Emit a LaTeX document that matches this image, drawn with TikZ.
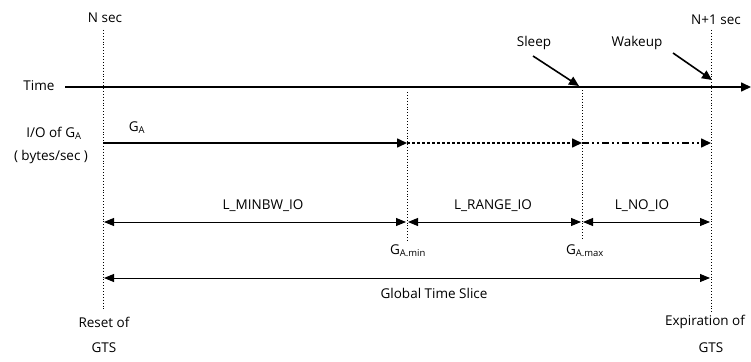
\documentclass[tikz,border=0pt]{standalone}
\usepackage{fontspec}
\setmainfont{Open Sans}
\usetikzlibrary{arrows.meta}
\begin{document}
\begin{tikzpicture}[x=1pt,y=-1pt,
  lbl/.style={inner sep=0pt,font=\fontsize{13.5}{15}\selectfont},
  vdot/.style={line width=0.9pt,dotted},
  tip/.style={-{Triangle[length=10pt,width=9pt]}},
  dtip/.style={{Triangle[length=10pt,width=8pt]}-{Triangle[length=10pt,width=8pt]}},
  thickline/.style={line width=1.6pt},
  thinline/.style={line width=0.9pt}]
\useasboundingbox (0,0) rectangle (751,361);
% coordinates
\coordinate (L0) at (103,30);  \coordinate (L1) at (103,311);
\coordinate (R0) at (711,30);  \coordinate (R1) at (711,312);
\coordinate (M0) at (407,92);  \coordinate (M1) at (407,240);
\coordinate (X0) at (582,90);  \coordinate (X1) at (582,240);
\coordinate (T0) at (65,87);   \coordinate (T1) at (751,87);
\coordinate (IO0) at (103,143); \coordinate (IOa) at (407,143);
\coordinate (IOb) at (582,143); \coordinate (IOc) at (711,143);
\coordinate (SL0) at (533,56); \coordinate (SL1) at (579,86);
\coordinate (WK0) at (673,53); \coordinate (WK1) at (712,80);
\coordinate (A0) at (104,222); \coordinate (A1) at (406,222);
\coordinate (B0) at (408,222); \coordinate (B1) at (581,222);
\coordinate (C0) at (583,222); \coordinate (C1) at (710,222);
\coordinate (G0) at (104,278); \coordinate (G1) at (710,278);
% vertical dotted lines
\draw[vdot] (L0) -- (L1);
\draw[vdot] (R0) -- (R1);
\draw[vdot] (M0) -- (M1);
\draw[vdot] (X0) -- (X1);
% time line
\draw[thickline,tip] (T0) -- (T1);
% I/O line
\draw[thickline,tip] (IO0) -- (IOa);
\draw[thickline,tip,dash pattern=on 3pt off 2pt] (IOa) -- (IOb);
\draw[thickline,tip,dash pattern=on 7pt off 3pt on 2pt off 3pt on 2pt off 3pt] (IOb) -- (IOc);
% sleep / wakeup arrows
\draw[thickline,tip] (SL0) -- (SL1);
\draw[thickline,tip] (WK0) -- (WK1);
% interval arrows
\draw[thinline,dtip] (A0) -- (A1);
\draw[thinline,dtip] (B0) -- (B1);
\draw[thinline,dtip] (C0) -- (C1);
\draw[thinline,dtip] (G0) -- (G1);
% labels
\node[lbl] (nsec) at (105,18) {N sec};
\node[lbl] (n1sec) at (716,20) {N+1 sec};
\node[lbl] (sleep) at (534,43) {Sleep};
\node[lbl] (wake) at (637,43) {Wakeup};
\node[lbl] (time) at (39,86) {Time};
\node[lbl] (io) at (54,133) {I/O of G\textsubscript{A}};
\node[lbl] (bps) at (51,157) {( bytes/sec )};
\node[lbl] (ga) at (137,128) {G\textsubscript{A}};
\node[lbl] (lmin) at (263,206) {L\_MINBW\_IO};
\node[lbl] (lrange) at (493,206) {L\_RANGE\_IO};
\node[lbl] (lno) at (642,206) {L\_NO\_IO};
\node[lbl] (gmin) at (408,251) {G\textsubscript{A.min}};
\node[lbl] (gmax) at (585,251) {G\textsubscript{A.max}};
\node[lbl] (gts) at (434,293) {Global Time Slice};
\node[lbl] (reset) at (104,322) {Reset of};
\node[lbl] (gts1) at (104,348) {GTS};
\node[lbl] (exp) at (705,322) {Expiration of};
\node[lbl] (gts2) at (711,348) {GTS};
\end{tikzpicture}
\end{document}
